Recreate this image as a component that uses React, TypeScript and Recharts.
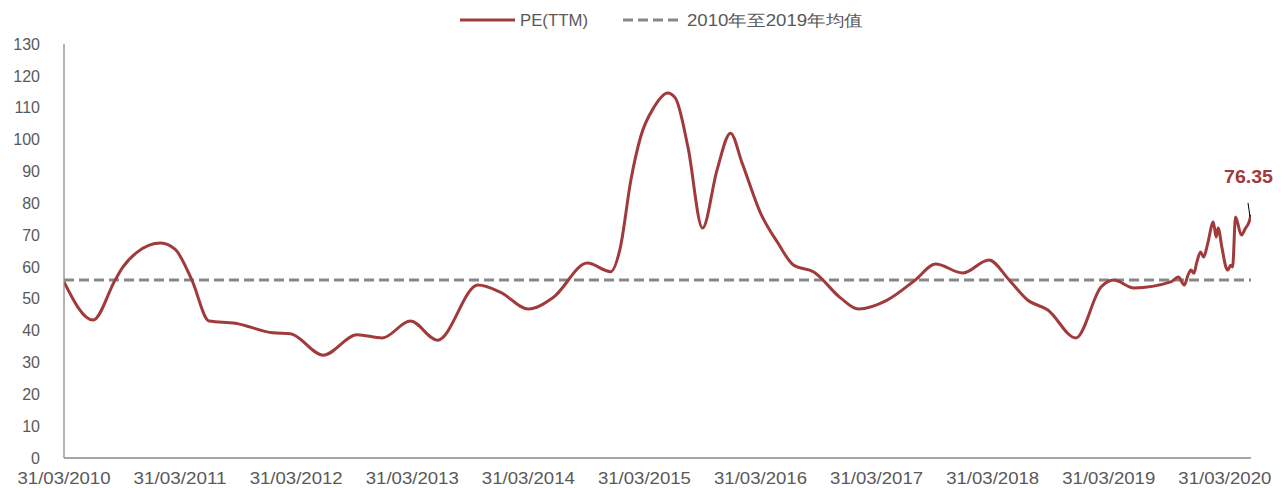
import React from "react";
import { LineChart, Line, XAxis, YAxis, ReferenceLine, Legend } from "recharts";

// months since 31/03/2010
const months = [
  0, 3, 5.3, 6.1, 7.5, 10, 11.5, 13.2, 15, 17.7, 21.6, 23.4, 26.8, 30.3, 32.9, 35.8, 38.6, 42.8, 45.1, 48.0,
  50.6, 54.1, 56.5, 57.5, 58.6, 59.6, 61, 62.4, 63.2, 64.5, 66, 67.5, 68.9, 70.1, 72, 73.8, 75.4, 77.5, 80.3,
  82.1, 85.1, 88.0, 90.1, 92.9, 95.6, 97.7, 99.6, 101.7, 104.6, 107.2, 108.5, 110.6, 114.4, 115.2, 115.8,
  116.2, 116.5, 116.8, 117.1, 117.5, 117.8, 118.2, 118.8, 119.1, 119.3, 119.7, 120.1, 120.3, 120.6, 120.8,
  121.1, 121.7, 122.1, 122.5, 122.7,
];
const peValues = [
  55.3, 43.3, 56, 60, 64.5, 67.5, 65.5, 56, 43, 42.3, 39.3, 39.0, 32.3, 38.7, 37.7, 43.0, 37.0, 54.3, 52.1, 46.8,
  50.5, 61.2, 58.5, 66, 87.3, 100.8, 110.2, 114.6, 113, 97.6, 72.2, 90.4, 102, 92.6, 76.9, 67.5, 60.6, 58.4, 50.2,
  46.8, 49.6, 55.9, 60.9, 58.1, 62.2, 55.9, 49.6, 46.5, 37.7, 53.7, 55.9, 53.4, 55.3, 56.8, 54.3,
  57.5, 59.0, 58, 61.5, 64.7, 63.1, 67, 74.1, 69.4, 72.2, 66, 60.0, 59.0, 60.5, 60.0,
  75.7, 70.0, 72, 74.1, 76.35,
];
const averageValue = 55.9;
const yTicks = [0, 10, 20, 30, 40, 50, 60, 70, 80, 90, 100, 110, 120, 130];
const xTicks = [0, 12, 24, 36, 48, 60, 72, 84, 96, 108, 120];
const xTickLabels = [
  "31/03/2010", "31/03/2011", "31/03/2012", "31/03/2013", "31/03/2014", "31/03/2015",
  "31/03/2016", "31/03/2017", "31/03/2018", "31/03/2019", "31/03/2020",
];
const seriesName = "PE(TTM)";
const avgName = "2010年至2019年均值";

const data = months.map((m, i) => ({ m, pe: peValues[i] }));

const RED = "#a13a3a";
const GRAY = "#878787";
const TEXT = "#595959";
const FONT = "'Liberation Sans', Arial, sans-serif";

const XTick = (props: any) => {
  const { x, y, payload } = props;
  const idx = xTicks.indexOf(payload.value);
  const label = idx >= 0 ? xTickLabels[idx] : "";
  return (
    <text x={x} y={y} dy="0.71em" textAnchor="middle" fill={TEXT} fontSize={16} fontFamily={FONT}
      textLength={93} lengthAdjust="spacingAndGlyphs">
      {label}
    </text>
  );
};

const YTick = (props: any) => {
  const { x, y, payload } = props;
  return (
    <text x={x} y={y} dy="0.355em" textAnchor="end" fill={TEXT} fontSize={16} fontFamily={FONT}>
      {payload.value}
    </text>
  );
};

const LegendContent = () => (
  <svg width={1288} height={34} style={{ display: "block" }}>
    <line x1={460} y1={20} x2={515} y2={20} stroke={RED} strokeWidth={3} />
    <text x={520} y={26} fill={TEXT} fontSize={16} fontFamily={FONT} textLength={68} lengthAdjust="spacingAndGlyphs">
      {seriesName}
    </text>
    <line x1={623} y1={20} x2={681} y2={20} stroke={GRAY} strokeWidth={3} strokeDasharray="10 5" />
    <text x={687} y={26} fill={TEXT} fontSize={16} fontFamily={FONT} textLength={176} lengthAdjust="spacingAndGlyphs">
      {avgName}
    </text>
  </svg>
);

const lastIndex = peValues.length - 1;

const EndLabel = (props: any) => {
  const { x, y, index, value } = props;
  if (index !== lastIndex) return <g />;
  return (
    <g>
      <line x1={x - 3} y1={y - 12} x2={x - 1} y2={y + 2} stroke="#000" strokeWidth={1} />
      <text x={x - 2.5} y={y - 32} textAnchor="middle" fill={RED} fontSize={18} fontWeight="bold"
        fontFamily={FONT} textLength={49} lengthAdjust="spacingAndGlyphs">
        {Number(value).toFixed(2)}
      </text>
    </g>
  );
};

export default function App() {
  return (
    <div style={{ position: "absolute", left: 0, top: 0, width: 1288, height: 488, background: "#fff" }}>
      <LineChart width={1288} height={488} data={data} margin={{ top: 44, right: 37, left: 0, bottom: 0 }}>
        <XAxis
          dataKey="m"
          type="number"
          domain={[0, 122.7]}
          ticks={xTicks}
          interval={0}
          height={30}
          tickLine={false}
          tickSize={0}
          tickMargin={15}
          axisLine={{ stroke: "#8a8a8a", strokeWidth: 1.3 }}
          tick={<XTick />}
          allowDataOverflow
        />
        <YAxis
          type="number"
          domain={[0, 130]}
          ticks={yTicks}
          interval={0}
          width={64}
          tickLine={false}
          tickSize={0}
          tickMargin={24}
          axisLine={{ stroke: "#8a8a8a", strokeWidth: 1.3 }}
          tick={<YTick />}
        />
        <Legend verticalAlign="middle" layout="horizontal" wrapperStyle={{ top: 0, left: 0, width: 1288 }} content={<LegendContent />} />
        <ReferenceLine y={averageValue} stroke={GRAY} strokeWidth={3} strokeDasharray="10 5" />
        <Line
          dataKey="pe"
          type="monotone"
          stroke={RED}
          strokeWidth={3}
          dot={false}
          activeDot={false}
          isAnimationActive={false}
          label={<EndLabel />}
        />
      </LineChart>
    </div>
  );
}
